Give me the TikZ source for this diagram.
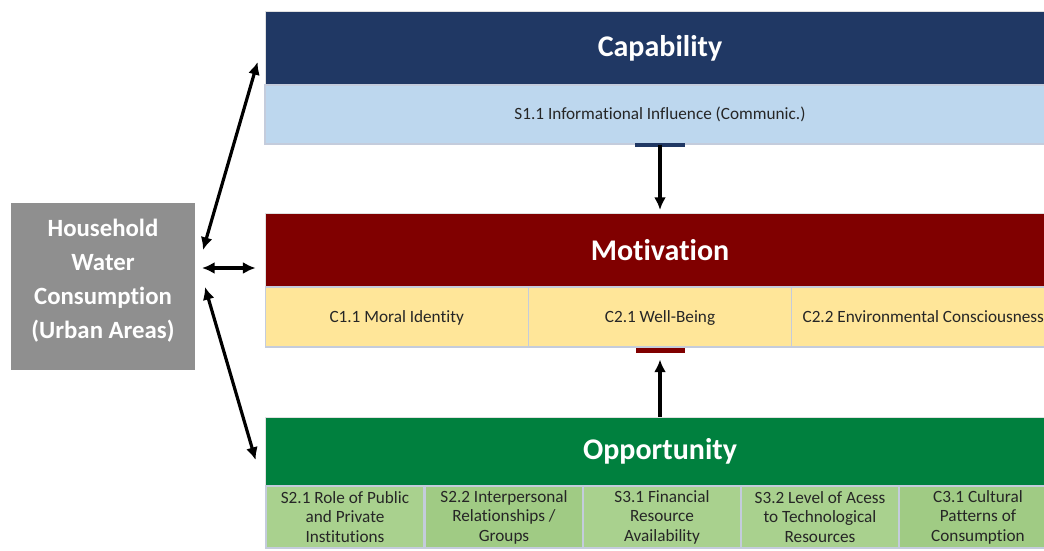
\documentclass[tikz,border=0pt]{standalone}
\usepackage{fontspec}
\setmainfont{Carlito}[Ligatures=CommonOff]
\usetikzlibrary{arrows.meta, calc}

\definecolor{capnavy}{RGB}{32,56,100}
\definecolor{capblue}{RGB}{189,215,238}
\definecolor{motred}{RGB}{128,0,0}
\definecolor{motyellow}{RGB}{255,230,153}
\definecolor{oppgreen}{RGB}{0,128,62}
\definecolor{opplight}{RGB}{169,209,142}
\definecolor{oppmid}{RGB}{160,203,132}
\definecolor{hhgray}{RGB}{143,143,143}
\definecolor{cellline}{RGB}{196,204,220}

\begin{document}
\begin{tikzpicture}[x=0.75pt, y=-0.75pt,
    head/.style={rectangle, inner sep=0pt, minimum width=592.5pt, minimum height=55.5pt,
        text=white, font=\bfseries\fontsize{22.5}{26}\selectfont, draw=black!12, line width=0.6pt},
    cell/.style={rectangle, inner sep=0pt, align=center, draw=cellline, line width=0.8pt,
        text=black!85, font=\fontsize{12.9}{14.6}\selectfont},
    onerow/.style={cell, text height=11pt, text depth=3pt},
    motcell/.style={onerow, fill=motyellow, minimum width=197.5pt, minimum height=45pt},
    oppcell/.style={cell, fill=opplight, minimum width=118.5pt, minimum height=46.5pt},
    link/.style={line width=2.5pt, -{Latex[length=9.5pt,width=9pt]}},
    both/.style={line width=2.4pt, {Latex[length=9.5pt,width=9pt]}-{Latex[length=9.5pt,width=9pt]}}]

    \useasboundingbox (0,0) rectangle (1044,550);

    % capability block
    \node[head, fill=capnavy] (cap) at (660,48) {Capability};
    \node[onerow, fill=capblue, minimum width=592.5pt, minimum height=44.25pt] (s11) at (660,114.5)
        {S1.1 Informational Influence (Communic.)};
    \fill[capnavy] (635,143) rectangle (685,146.5);

    % motivation block
    \node[head, fill=motred] (mot) at (660,250) {Motivation};
    \node[motcell] (c11) at (396.7,317) {C1.1 Moral Identity};
    \node[motcell] (c21) at (660,317) {C2.1 Well-Being};
    \node[motcell] (c22) at (923.3,317) {C2.2 Environmental Consciousness};
    \fill[motred] (636,348) rectangle (685,353);

    % opportunity block
    \node[head, fill=oppgreen, minimum height=51.75pt] (opp) at (660,451.5) {Opportunity};
    \node[oppcell] (s21) at (345,517) {S2.1 Role of Public\\and Private\\Institutions};
    \node[oppcell, fill=oppmid] (s22) at (504,517) {S2.2 Interpersonal\\Relationships /\\Groups};
    \node[oppcell] (s31) at (662,517) {S3.1 Financial\\Resource\\Availability};
    \node[oppcell] (s32) at (820,517) {S3.2 Level of Acess\\to Technological\\Resources};
    \node[oppcell, fill=oppmid] (c31) at (978,517) {C3.1 Cultural\\Patterns of\\Consumption};

    % household box
    \node[rectangle, fill=hhgray, minimum width=138pt, minimum height=125.25pt] (hh) at (103,286.5) {};
    \node[text=white, align=center, font=\bfseries\fontsize{18.6}{25.5}\selectfont] (hhlabel)
        at ($(hh.center)+(0,-5.5)$) {Household\\Water\\Consumption\\(Urban Areas)};

    % arrows between the blocks
    \draw[link, shorten >=2pt] (s11.south) -- (mot.north);
    \draw[link, shorten >=9pt] (opp.north) -- (c21.south);

    \coordinate (hhcap) at (203,250);
    \coordinate (hhmot) at (202,268);
    \coordinate (hhopp) at (205,287);
    \draw[both] (hhcap) -- ($(cap.west)+(-7,14)$);
    \draw[both] (hhmot) -- ($(mot.west)+(-9,18)$);
    \draw[both] (hhopp) -- ($(opp.west)+(-9,8.5)$);
\end{tikzpicture}
\end{document}
